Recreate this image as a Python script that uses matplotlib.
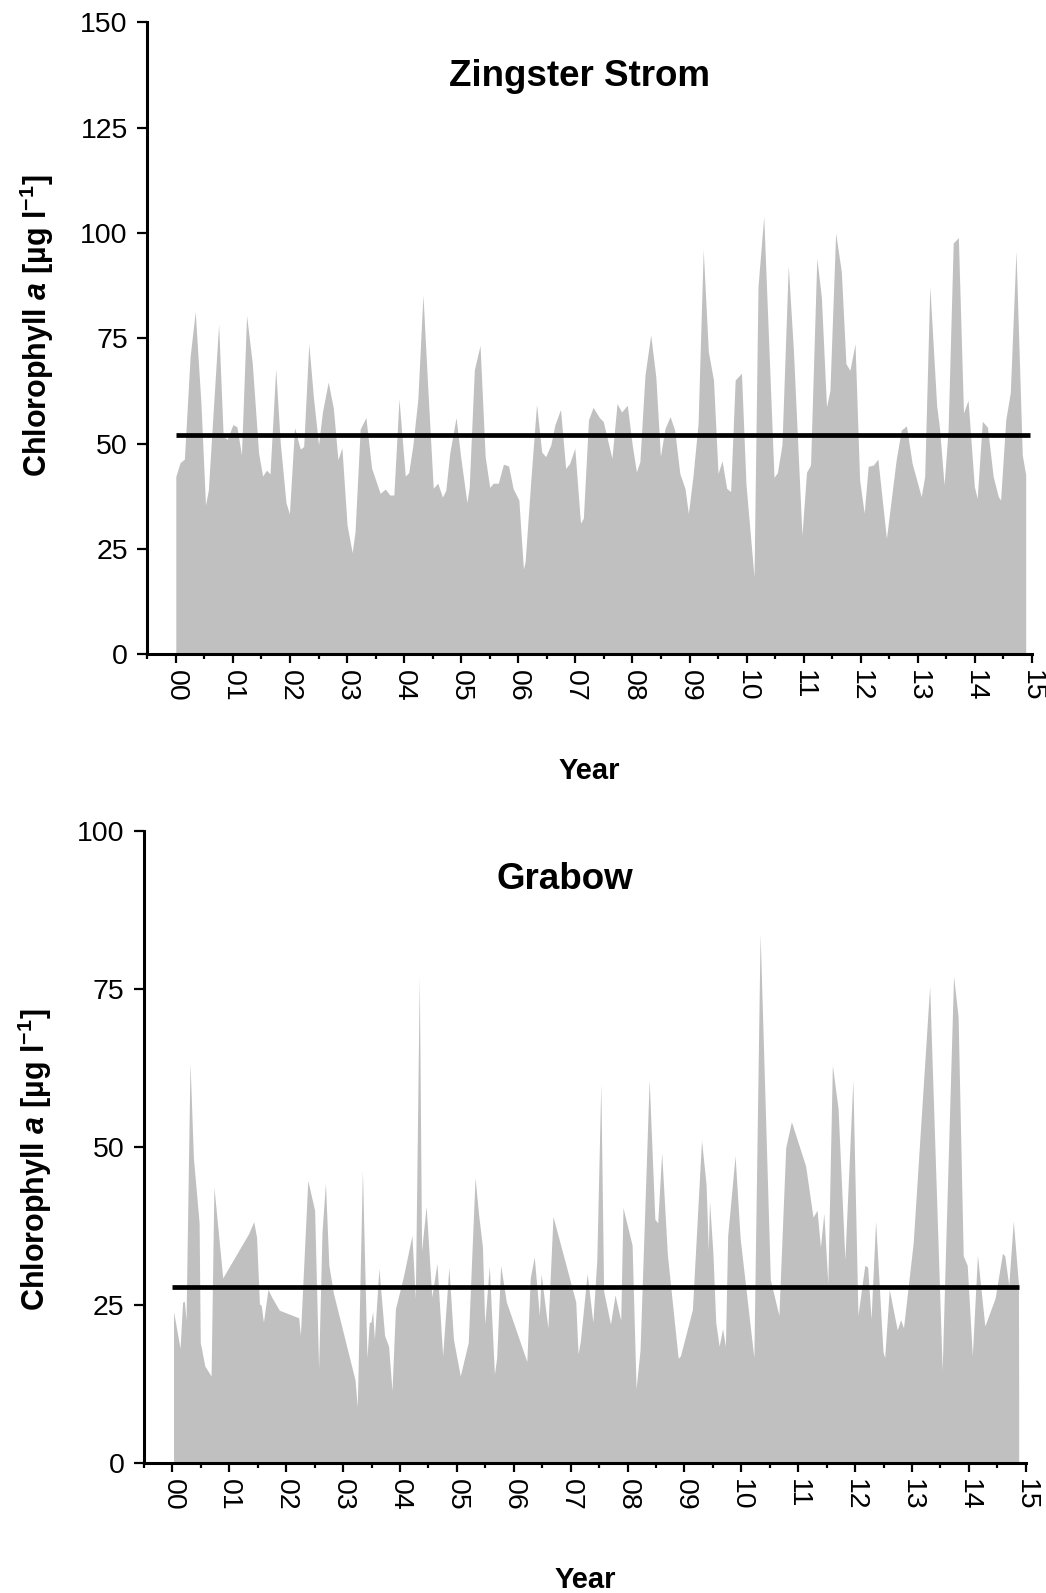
import matplotlib
matplotlib.use('Agg')
import matplotlib.pyplot as plt
from matplotlib.ticker import MultipleLocator

plt.rcParams['font.family'] = ['Liberation Sans', 'DejaVu Sans']
plt.rcParams['mathtext.fontset'] = 'custom'
plt.rcParams['mathtext.rm'] = 'Liberation Sans:bold'
plt.rcParams['mathtext.it'] = 'Liberation Sans:bold:italic'
plt.rcParams['mathtext.bf'] = 'Liberation Sans:bold'

# Zingster Strom: time in years since 2000, chlorophyll a in ug/l
zingst_year = [0.00, 0.075, 0.15, 0.25, 0.34, 0.44, 0.52, 0.57, 0.66, 0.75, 0.83, 0.90,
               1.00, 1.07, 1.15, 1.24, 1.34, 1.45, 1.52, 1.59, 1.65, 1.75, 1.83, 1.93, 1.99,
               2.08, 2.18, 2.24, 2.33, 2.41, 2.50, 2.57, 2.67, 2.76, 2.84, 2.91,
               3.00, 3.09, 3.14, 3.23, 3.33, 3.43, 3.58, 3.67, 3.75, 3.82, 3.91,
               4.02, 4.08, 4.15, 4.24, 4.33, 4.41, 4.51, 4.59, 4.67, 4.73, 4.80, 4.91, 4.99,
               5.10, 5.14, 5.23, 5.33, 5.42, 5.50, 5.56, 5.65, 5.74, 5.83, 5.91,
               6.01, 6.09, 6.12, 6.22, 6.32, 6.41, 6.48, 6.57, 6.64, 6.74, 6.83, 6.90, 6.99,
               7.09, 7.14, 7.23, 7.31, 7.42, 7.49, 7.64, 7.73, 7.81, 7.91,
               8.00, 8.07, 8.13, 8.22, 8.32, 8.41, 8.49, 8.57, 8.66, 8.74, 8.83, 8.92, 8.98,
               9.06, 9.15, 9.24, 9.33, 9.42, 9.50, 9.57, 9.65, 9.72, 9.80, 9.91, 9.99,
               10.13, 10.20, 10.30, 10.48, 10.54, 10.62, 10.73, 10.82, 10.97,
               11.05, 11.12, 11.23, 11.31, 11.40, 11.46, 11.56, 11.66, 11.74, 11.81, 11.90, 11.98,
               12.06, 12.13, 12.22, 12.30, 12.45, 12.62, 12.71, 12.80, 12.90,
               13.06, 13.12, 13.21, 13.33, 13.38, 13.46, 13.53, 13.62, 13.71, 13.80, 13.88, 13.99,
               14.04, 14.13, 14.22, 14.32, 14.41, 14.45, 14.54, 14.62, 14.72, 14.83, 14.89]
zingst_chl = [42.2, 45.5, 46.3, 70.6, 81.3, 59.6, 35.4, 39.0, 58.8, 78.3, 51.7, 51.0,
              54.5, 54.0, 47.3, 80.4, 69.0, 47.8, 42.3, 43.7, 42.8, 67.7, 50.2, 36.0, 33.3,
              53.8, 48.7, 49.3, 73.7, 61.1, 49.7, 57.6, 64.6, 58.4, 46.2, 49.0,
              30.7, 24.1, 29.1, 53.4, 56.2, 44.2, 38.2, 39.2, 37.8, 37.8, 60.6,
              42.3, 43.1, 49.3, 60.5, 85.3, 64.3, 39.4, 40.6, 37.3, 38.9, 47.8, 56.2, 46.9,
              36.0, 39.6, 67.5, 73.3, 46.9, 39.6, 40.6, 40.6, 45.1, 44.7, 39.3,
              36.6, 20.2, 22.0, 41.4, 59.3, 48.0, 46.9, 49.7, 54.4, 58.1, 44.1, 45.3, 48.9,
              31.1, 32.3, 55.6, 58.6, 56.2, 55.2, 46.5, 59.5, 57.5, 59.1,
              49.3, 43.3, 45.7, 66.3, 75.8, 65.8, 46.9, 53.6, 56.4, 53.2, 42.9, 39.4, 33.4,
              42.2, 54.8, 96.0, 71.8, 65.1, 42.9, 45.9, 39.4, 38.6, 65.1, 66.7, 40.2,
              18.4, 87.3, 103.9, 42.0, 43.1, 49.8, 92.2, 72.2, 28.3,
              43.2, 44.9, 94.0, 84.8, 58.7, 62.6, 100.0, 90.8, 69.0, 67.4, 73.7, 41.4,
              33.5, 44.6, 44.9, 46.3, 27.5, 46.1, 53.2, 54.2, 45.3,
              37.4, 42.2, 87.3, 59.0, 53.6, 40.2, 53.2, 97.6, 98.9, 57.3, 60.3, 39.8,
              37.0, 55.3, 53.9, 42.2, 37.4, 36.6, 55.6, 62.1, 95.7, 47.3, 42.6]
zingst_mean = 52.0
zingst_mean_span = [0.0, 14.96]

# Grabow
grabow_year = [0.02, 0.135, 0.18, 0.21, 0.24, 0.31, 0.37, 0.47, 0.49, 0.57, 0.68, 0.73, 0.885,
               1.34, 1.43, 1.48, 1.53, 1.56, 1.60, 1.68, 1.75, 1.88,
               2.22, 2.25, 2.38, 2.50, 2.57, 2.63, 2.69, 2.75, 2.83,
               3.21, 3.25, 3.34, 3.42, 3.46, 3.49, 3.52, 3.55, 3.63, 3.73, 3.80, 3.86, 3.92,
               4.06, 4.21, 4.27, 4.34, 4.38, 4.46, 4.56, 4.65, 4.75, 4.86, 4.94,
               5.06, 5.20, 5.32, 5.38, 5.45, 5.49, 5.57, 5.66, 5.70, 5.77, 5.87,
               6.23, 6.29, 6.36, 6.45, 6.48, 6.60, 6.69, 6.91,
               7.09, 7.13, 7.17, 7.29, 7.39, 7.46, 7.53, 7.58, 7.70, 7.78, 7.88, 7.92,
               8.08, 8.15, 8.22, 8.38, 8.48, 8.53, 8.60, 8.70, 8.89, 8.93,
               9.14, 9.30, 9.38, 9.42, 9.44, 9.50, 9.55, 9.61, 9.67, 9.72, 9.76, 9.89, 9.98,
               10.22, 10.33, 10.51, 10.66, 10.78, 10.88,
               11.13, 11.26, 11.33, 11.39, 11.45, 11.52, 11.60, 11.70, 11.82, 11.96,
               12.05, 12.17, 12.22, 12.28, 12.36, 12.49, 12.52, 12.60, 12.74, 12.80, 12.85,
               13.02, 13.31, 13.53, 13.58, 13.73, 13.81, 13.90, 13.97,
               14.06, 14.15, 14.28, 14.46, 14.59, 14.63, 14.70, 14.78, 14.87, 14.875]
grabow_chl = [24.0, 18.2, 25.5, 25.6, 22.6, 63.3, 48.2, 38.0, 19.1, 15.4, 13.8, 43.7, 29.3,
              36.3, 38.2, 35.7, 25.2, 25.0, 22.3, 27.5, 26.2, 24.2,
              23.0, 20.2, 44.7, 40.0, 15.0, 36.5, 44.3, 31.3, 26.9,
              13.2, 8.9, 46.3, 16.7, 22.3, 22.3, 24.0, 19.6, 30.8, 20.2, 18.5, 11.5, 24.4,
              29.5, 36.0, 26.0, 76.9, 33.6, 40.6, 26.3, 31.6, 17.0, 31.0, 19.6,
              13.8, 19.1, 45.2, 39.5, 34.2, 22.0, 31.2, 14.1, 16.7, 31.3, 25.5,
              16.1, 29.3, 32.6, 23.4, 30.0, 21.4, 39.0, 31.6,
              25.5, 17.3, 19.3, 30.0, 22.3, 32.2, 60.0, 27.2, 22.0, 26.6, 22.6, 40.4,
              34.5, 11.8, 17.9, 60.6, 38.6, 38.0, 49.1, 33.0, 16.6, 17.0,
              24.3, 51.1, 44.1, 33.6, 41.5, 33.3, 22.3, 18.5, 21.3, 18.5, 36.0, 48.6, 35.5,
              16.7, 83.7, 29.0, 23.4, 49.9, 54.0,
              47.0, 38.9, 40.0, 34.2, 39.5, 28.4, 62.9, 56.1, 32.2, 60.6,
              23.4, 31.3, 31.0, 22.8, 38.3, 17.6, 16.7, 27.5, 21.1, 22.7, 21.4,
              34.8, 75.4, 14.7, 30.7, 77.0, 70.6, 32.8, 31.3,
              17.0, 32.9, 21.7, 26.1, 33.2, 32.8, 28.1, 38.3, 28.4, 10.0]
grabow_mean = 27.8
grabow_mean_span = [0.0, 14.88]

year_labels = ['%02d' % i for i in range(16)]

fig = plt.figure(figsize=(10.46, 15.93), dpi=100)
ax1 = fig.add_axes([0.1408, 0.5893, 0.8458, 0.3967])
ax2 = fig.add_axes([0.1376, 0.0814, 0.8431, 0.3972])

panels = [
    (ax1, zingst_year, zingst_chl, zingst_mean, zingst_mean_span, 150, 'Zingster Strom', 0.488, 0.8987),
    (ax2, grabow_year, grabow_chl, grabow_mean, grabow_mean_span, 100, 'Grabow', 0.4775, 0.907),
]

for ax, yr, chl, mean, span, ymax, title, tx, ty in panels:
    ax.fill_between(yr, chl, 0, color='#c0c0c0', linewidth=0)
    ax.plot(span, [mean, mean], color='black', linewidth=3.4, solid_capstyle='butt')

    ax.set_xlim(-0.5, 15)
    ax.set_ylim(0, ymax)
    ax.set_xticks(range(16))
    ax.set_xticklabels(year_labels, rotation=270, fontsize=20.5)
    ax.xaxis.set_minor_locator(MultipleLocator(0.5))
    ax.yaxis.set_major_locator(MultipleLocator(25))
    ax.tick_params(axis='y', labelsize=20.5, length=7, width=1.6, pad=7)
    ax.tick_params(axis='x', which='major', length=6.5, width=1.6, pad=5)
    ax.tick_params(axis='x', which='minor', length=3.6, width=1.6)

    for s in ['top', 'right']:
        ax.spines[s].set_visible(False)
    for s in ['left', 'bottom']:
        ax.spines[s].set_linewidth(2.2)

    ax.set_xlabel('Year', fontsize=21, fontweight='bold')
    ax.xaxis.set_label_coords(0.5, -0.162)
    ax.set_ylabel(r'Chlorophyll $\mathit{a}$ [µg l$^{\mathrm{-1}}$]', fontsize=22, fontweight='bold')
    ax.text(tx, ty, title, transform=ax.transAxes, ha='center', va='baseline',
            fontsize=26.5, fontweight='bold')

ax1.yaxis.set_label_coords(-0.103, 0.52)
ax2.yaxis.set_label_coords(-0.102, 0.48)

plt.savefig('out.png', dpi=100)
